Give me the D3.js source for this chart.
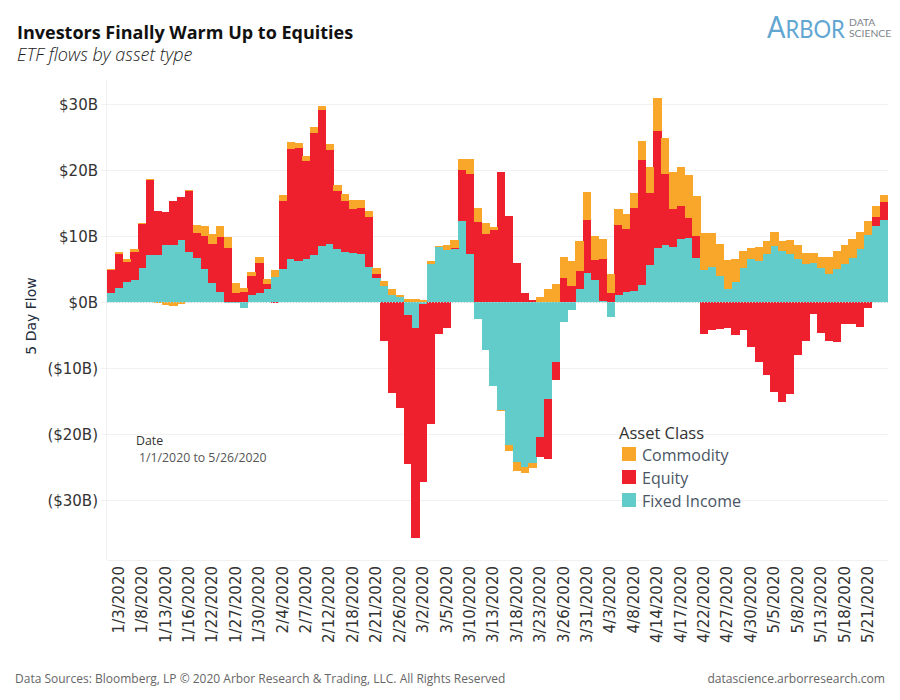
<!DOCTYPE html>
<html>
<head>
<meta charset="utf-8">
<title>Investors Finally Warm Up to Equities</title>
<script src="https://cdn.jsdelivr.net/npm/d3@7"></script>
<style>
  html, body { margin: 0; padding: 0; background: #fff; }
  svg { display: block; }
  text { font-family: "Open Sans", sans-serif; }
  .tick text, .axis-title { font-family: "DejaVu Sans", sans-serif; }
  .logo text, text.logo { font-family: "Lato", sans-serif; }
</style>
</head>
<body>
<div id="chart"></div>
<script>
// --- Data ($B) ---
const tradingDays = [
  "1/2/2020","1/3/2020","1/6/2020","1/7/2020","1/8/2020","1/9/2020","1/10/2020","1/13/2020","1/14/2020","1/15/2020",
  "1/16/2020","1/17/2020","1/21/2020","1/22/2020","1/23/2020","1/24/2020","1/27/2020","1/28/2020","1/29/2020","1/30/2020",
  "1/31/2020","2/3/2020","2/4/2020","2/5/2020","2/6/2020","2/7/2020","2/10/2020","2/11/2020","2/12/2020","2/13/2020",
  "2/14/2020","2/18/2020","2/19/2020","2/20/2020","2/21/2020","2/24/2020","2/25/2020","2/26/2020","2/27/2020","2/28/2020",
  "3/2/2020","3/3/2020","3/4/2020","3/5/2020","3/6/2020","3/9/2020","3/10/2020","3/11/2020","3/12/2020","3/13/2020",
  "3/16/2020","3/17/2020","3/18/2020","3/19/2020","3/20/2020","3/23/2020","3/24/2020","3/25/2020","3/26/2020","3/27/2020",
  "3/30/2020","3/31/2020","4/1/2020","4/2/2020","4/3/2020","4/6/2020","4/7/2020","4/8/2020","4/9/2020","4/13/2020",
  "4/14/2020","4/15/2020","4/16/2020","4/17/2020","4/20/2020","4/21/2020","4/22/2020","4/23/2020","4/24/2020","4/27/2020",
  "4/28/2020","4/29/2020","4/30/2020","5/1/2020","5/4/2020","5/5/2020","5/6/2020","5/7/2020","5/8/2020","5/11/2020",
  "5/12/2020","5/13/2020","5/14/2020","5/15/2020","5/18/2020","5/19/2020","5/20/2020","5/21/2020","5/22/2020","5/26/2020"
];

const fixedIncome = [
  1.4,2.1,3.0,3.3,5.15,7.1,7.1,8.6,8.6,9.4,
  7.6,6.7,5.0,2.9,1.5,-0.15,-0.15,-0.9,1.05,1.35,
  1.95,3.8,5.0,6.5,6.2,6.5,7.1,8.5,8.8,8.0,
  7.6,7.4,7.3,5.3,3.6,2.4,1.05,0.7,-1.95,-3.95,
  -0.3,5.75,8.3,7.9,8.0,12.3,7.3,-2.6,-7.3,-12.7,
  -16.4,-21.7,-24.2,-25.0,-24.4,-20.45,-14.7,-9.1,-3.0,-1.2,
  1.95,4.4,3.3,0.15,-2.3,1.05,1.5,1.65,2.6,5.6,
  8.2,8.6,8.3,9.55,9.7,6.65,4.85,5.3,3.95,1.95,
  3.0,5.15,6.5,6.2,7.3,8.5,7.7,7.3,6.5,5.75,
  5.9,5.15,4.25,5.0,5.75,6.65,8.0,10.15,11.5,12.4
];

const equity = [
  3.45,5.15,3.05,4.3,6.65,11.4,6.7,5.0,6.7,6.5,
  9.2,3.75,5.0,5.9,8.35,8.2,1.35,1.5,2.9,4.55,
  0.75,-0.15,10.3,16.7,17.1,14.9,18.5,20.6,14.2,8.8,
  7.7,6.7,6.9,7.6,0.6,-5.9,-13.8,-16.05,-22.55,-31.8,
  -27.0,-18.5,-4.85,-3.95,0.2,7.7,12.1,12.1,10.3,10.9,
  19.7,13.0,5.9,1.35,0.3,-3.05,-9.1,-2.7,3.6,2.4,
  2.75,8.0,3.1,6.35,1.35,10.65,9.55,12.55,18.9,10.9,
  17.7,10.8,5.8,4.95,3.0,3.35,-4.85,-4.25,-4.1,-3.95,
  -5.0,-4.25,-6.8,-9.1,-11.05,-13.6,-15.15,-13.9,-8.0,-5.9,
  -1.8,-4.7,-5.9,-6.05,-3.3,-3.3,-3.8,-0.9,1.4,2.75
];

const commodity = [
  0.15,0.3,0.45,0.4,0.2,0.1,-0.15,-0.45,-0.6,-0.3,
  0.2,1.25,1.5,1.5,1.65,1.65,1.55,0.6,0.6,0.9,
  0.8,1.05,0.9,1.0,0.8,0.7,0.9,0.6,0.9,0.9,
  1.1,1.35,1.25,0.9,0.95,0.8,0.9,0.35,0.45,0.45,
  0.3,0.45,0.2,0.7,1.2,1.7,2.3,2.1,1.7,0.5,
  -0.15,-0.9,-1.35,-0.9,-0.75,0.75,1.95,2.7,3.2,3.8,
  4.5,4.3,3.6,3.05,2.85,2.4,2.25,2.3,2.9,3.95,
  5.0,5.45,5.6,5.95,6.5,6.05,5.6,5.15,4.85,4.45,
  3.5,2.55,1.7,2.1,1.9,2.1,1.5,2.1,2.1,1.65,
  1.5,1.65,2.55,2.7,2.85,2.9,2.6,2.15,1.6,1.05
];

const yTicks = [-30, -20, -10, 0, 10, 20, 30];
const legendNames = ["Commodity", "Equity", "Fixed Income"];
const stackKeys = ["Fixed Income", "Equity", "Commodity"];
const colors = { "Commodity": "#f9a72b", "Equity": "#ee202e", "Fixed Income": "#62ccca" };

// --- Layout ---
const width = 900, height = 700;
const plot = { left: 107, right: 887.5, top: 80, bottom: 560 };

const svg = d3.select("#chart").append("svg")
  .attr("width", width)
  .attr("height", height);

// Table for d3.stack, one row per trading day
const rows = tradingDays.map((d, i) => ({
  date: d,
  "Fixed Income": fixedIncome[i],
  "Equity": equity[i],
  "Commodity": commodity[i]
}));

const series = d3.stack()
  .keys(stackKeys)
  .offset(d3.stackOffsetDiverging)(rows);

const x = d3.scaleBand()
  .domain(tradingDays)
  .range([plot.left, plot.right])
  .padding(0);

// 6.6px per $1B, zero at y=302
const y = d3.scaleLinear()
  .domain([33.64, -39.09])
  .range([plot.top, plot.bottom]);

// --- Gridlines and axis frame ---
const yAxis = d3.axisLeft(y)
  .tickValues(yTicks)
  .tickSize(0)
  .tickPadding(9)
  .tickFormat(v => v === 0 ? "$0B" : v < 0 ? `($${-v}B)` : `$${v}B`);

const yAxisG = svg.append("g")
  .attr("transform", `translate(${plot.left},0.5)`)
  .call(yAxis);
yAxisG.select(".domain").remove();
yAxisG.selectAll("text")
  .attr("font-size", 15)
  .attr("fill", "#333");

svg.append("g")
  .selectAll("line")
  .data(yTicks)
  .join("line")
  .attr("x1", 101)
  .attr("x2", 888)
  .attr("y1", d => Math.round(y(d)) + 0.5)
  .attr("y2", d => Math.round(y(d)) + 0.5)
  .attr("stroke", "#f1f1f1");

svg.append("line")
  .attr("x1", 106.5).attr("x2", 106.5)
  .attr("y1", plot.top).attr("y2", plot.bottom)
  .attr("stroke", "#f1f1f1");

// --- Bars ---
svg.append("g")
  .attr("shape-rendering", "crispEdges")
  .selectAll("g")
  .data(series)
  .join("g")
  .attr("fill", s => colors[s.key])
  .selectAll("rect")
  .data(s => s)
  .join("rect")
  .attr("x", d => x(d.data.date))
  .attr("width", x.bandwidth() + 0.4)
  .attr("y", d => y(d[1]))
  .attr("height", d => Math.max(0, y(d[0]) - y(d[1])));

// Dotted zero line
svg.append("line")
  .attr("x1", plot.left).attr("x2", 888)
  .attr("y1", y(0) + 0.5).attr("y2", y(0) + 0.5)
  .attr("stroke", "#b5d8d8")
  .attr("stroke-dasharray", "1,2");

// --- X axis, one label every 3rd trading day ---
const xAxis = d3.axisBottom(x)
  .tickValues(tradingDays.filter((d, i) => i % 3 === 1))
  .tickSize(0);

const xAxisG = svg.append("g")
  .attr("transform", `translate(0,${plot.bottom})`)
  .call(xAxis);
xAxisG.select(".domain")
  .attr("stroke", "#f1f1f1");
xAxisG.selectAll("text")
  .attr("font-size", 15)
  .attr("fill", "#333")
  .attr("text-anchor", "end")
  .attr("dominant-baseline", "central")
  .attr("transform", "rotate(-90)")
  .attr("x", -6)
  .attr("y", 0)
  .attr("dy", 0);

// --- Titles ---
svg.append("text").attr("x", 17).attr("y", 39)
  .attr("font-size", 18).attr("font-weight", 700).attr("fill", "#111")
  .text("Investors Finally Warm Up to Equities");
svg.append("text").attr("x", 17).attr("y", 61)
  .attr("font-size", 18).attr("font-style", "italic").attr("font-weight", 300).attr("fill", "#222")
  .text("ETF flows by asset type");

svg.append("text")
  .attr("class", "axis-title")
  .attr("transform", "translate(36,316) rotate(-90)")
  .attr("text-anchor", "middle")
  .attr("font-size", 14).attr("fill", "#1f2d3d")
  .text("5 Day Flow");

// --- Date filter note ---
svg.append("text").attr("x", 136).attr("y", 445)
  .attr("font-size", 12.3).attr("fill", "#333").text("Date");
svg.append("text").attr("x", 139).attr("y", 462)
  .attr("font-size", 12.3).attr("fill", "#555").text("1/1/2020 to 5/26/2020");

// --- Legend ---
svg.append("text").attr("x", 619).attr("y", 439)
  .attr("font-size", 16.5).attr("fill", "#333").text("Asset Class");

const legend = svg.append("g")
  .selectAll("g")
  .data(legendNames)
  .join("g")
  .attr("transform", (d, i) => `translate(622,${447 + i * 23})`);
legend.append("rect")
  .attr("width", 14).attr("height", 14)
  .attr("fill", d => colors[d]);
legend.append("text")
  .attr("x", 20).attr("y", 14)
  .attr("font-size", 16).attr("fill", "#4a5564")
  .text(d => d);

// --- Logo ---
const logo = svg.append("text").attr("class", "logo")
  .attr("transform", "translate(767,38) scale(0.88,1)")
  .attr("fill", "#62a6d2");
logo.append("tspan").attr("font-size", 31).text("A");
logo.append("tspan").attr("font-size", 25).text("RBOR");

const logoSub = svg.append("text").attr("class", "logo")
  .attr("transform", "translate(849,0) scale(1.15,1)")
  .attr("font-size", 9).attr("fill", "#7d8388");
logoSub.append("tspan").attr("x", 0).attr("y", 26.5).text("DATA");
logoSub.append("tspan").attr("x", 0).attr("y", 37.5).text("SCIENCE");

// --- Footer ---
svg.append("text").attr("x", 15).attr("y", 683)
  .attr("font-size", 12).attr("fill", "#666")
  .text("Data Sources: Bloomberg, LP © 2020 Arbor Research & Trading, LLC. All Rights Reserved");
svg.append("text").attr("x", 885).attr("y", 683)
  .attr("text-anchor", "end")
  .attr("font-size", 12.1).attr("fill", "#666")
  .text("datascience.arborresearch.com");
</script>
</body>
</html>
